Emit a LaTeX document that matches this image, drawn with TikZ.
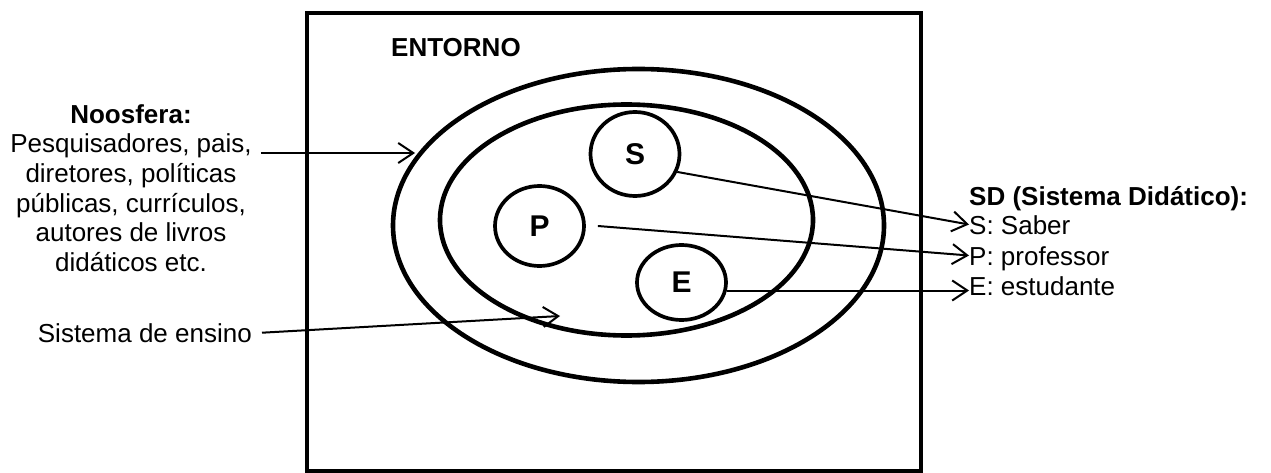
\documentclass[tikz,border=0pt]{standalone}
\usepackage{fontspec}
\setmainfont{Liberation Sans}
\usetikzlibrary{arrows.meta,shapes.geometric}
\begin{document}
\begin{tikzpicture}[x=1pt,y=-1pt,
  txt/.style={font=\fontsize{26}{29.7}\selectfont, inner sep=0pt},
  btxt/.style={font=\fontsize{26}{29.7}\selectfont\bfseries, inner sep=0pt},
  letter/.style={ellipse, draw, line width=3.7pt, inner sep=0pt, font=\fontsize{30}{34}\selectfont\bfseries},
  ring/.style={line width=4.6pt},
  frame/.style={line width=4pt},
  conn/.style={line width=2pt, -{Straight Barb[length=15pt,width=20pt,line width=2pt]}},
]
\useasboundingbox (0,0) rectangle (1271,473);
\draw[frame] (307,13) rectangle (920.5,471);
\node[btxt, anchor=base west] (ent) at (391,57) {ENTORNO};
\draw[ring] (638.5,225.5) ellipse [x radius=245.5, y radius=156.5];
\draw[ring] (626.5,220) ellipse [x radius=186.5, y radius=115.5];
\node[letter, minimum width=89pt, minimum height=84pt] (S) at (635,154) {S};
\node[letter, minimum width=89pt, minimum height=80pt] (P) at (539.5,226) {P};
\node[letter, minimum width=89pt, minimum height=75pt] (E) at (681.5,282.5) {E};
% right legend
\node[btxt, anchor=base west] (sd) at (969,206) {SD (Sistema Didático):};
\node[txt, anchor=base west, text height=19pt, text depth=0pt] (sdS) at (969,234) {S: Saber};
\node[txt, anchor=base west, text height=19pt, text depth=0pt] (sdP) at (969,265) {P: professor};
\node[txt, anchor=base west, text height=19pt, text depth=0pt] (sdE) at (969,295) {E: estudante};
\draw[conn] (S.-23) -- (sdS.west);
\draw[conn] ([xshift=12pt]P.east) -- (sdP.west);
\draw[conn] (E.-10) -- (E.-10 -| sdE.west);
% left texts
\node[txt, align=center, anchor=north] (noos) at (131,104) {\textbf{Noosfera:}\\Pesquisadores, pais,\\diretores, políticas\\públicas, currículos,\\autores de livros\\didáticos etc.};
\node[txt, anchor=base east] (sist) at (252,342) {Sistema de ensino};
\coordinate (nTip) at (415,153);
\coordinate (sTip) at (560,316);
\draw[conn] ([xshift=9pt]noos.east |- nTip) -- (nTip);
\draw[conn] ([xshift=10pt]sist.east) -- (sTip);
\end{tikzpicture}
\end{document}
